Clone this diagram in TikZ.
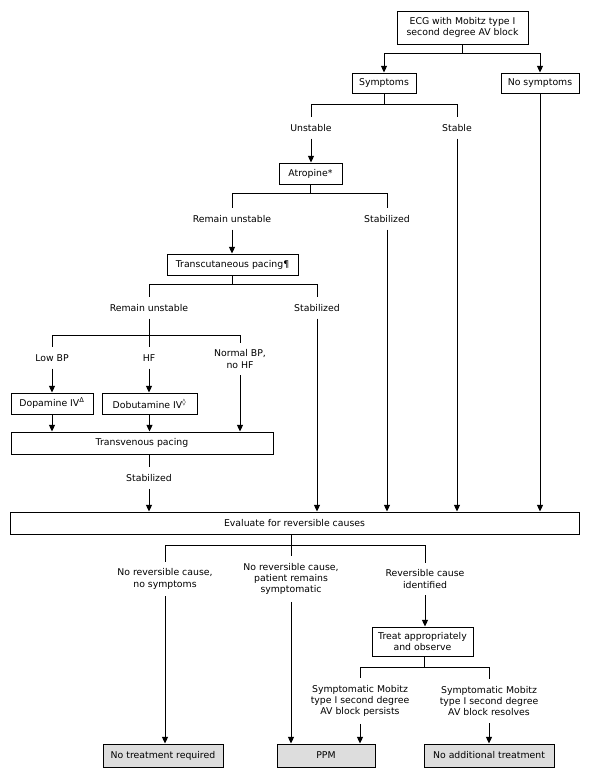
\documentclass[tikz,border=0pt]{standalone}
\usepackage{fontspec}
\setmainfont{DejaVu Sans}
\usetikzlibrary{arrows.meta}
\definecolor{finfond}{HTML}{DDDDDD}
\tikzset{
  boite/.style={draw, line width=0.7pt, inner sep=0pt, align=center},
  fin/.style={boite, fill=finfond},
  etiq/.style={inner xsep=1pt, inner ysep=5pt, align=center},
  fl/.style={-{Triangle[length=5pt,width=4.5pt]}},
}
\begin{document}
\begin{tikzpicture}[x=0.75pt,y=-0.75pt, line width=0.7pt, font=\fontsize{7}{8.5}\selectfont]
    \useasboundingbox (0,0) rectangle (592,778);
    % boites
    \node[boite, minimum width=98.25pt, minimum height=24.75pt] (ecg) at (462.5,27.5) {ECG with Mobitz type I\\second degree AV block};
    \node[boite, minimum width=48pt, minimum height=15pt] (sym) at (384,83) {Symptoms};
    \node[boite, minimum width=58.5pt, minimum height=15pt] (nosym) at (540,83) {No symptoms};
    \node[boite, minimum width=47.25pt, minimum height=15.75pt] (atro) at (310.5,173.5) {Atropine*};
    \node[boite, minimum width=98.25pt, minimum height=15.75pt] (tcp) at (232.5,264.5) {Transcutaneous pacing¶};
    \node[boite, minimum width=61.5pt, minimum height=15.75pt] (dopa) at (52,403.5) {Dopamine IV\textsuperscript{Δ}};
    \node[boite, minimum width=71.25pt, minimum height=15.75pt] (dobu) at (149.5,403.5) {Dobutamine IV\textsuperscript{◊}};
    \node[boite, minimum width=196.5pt, minimum height=16.5pt] (tvp) at (142,443) {Transvenous pacing};
    \node[boite, minimum width=426.75pt, minimum height=16.5pt] (eval) at (294.5,523) {Evaluate for reversible causes};
    \node[boite, minimum width=75.75pt, minimum height=21.75pt] (treat) at (422.5,641.5) {Treat appropriately\\and observe};
    \node[fin, minimum width=90pt, minimum height=17.25pt] (notreat) at (163,755.5) {No treatment required};
    \node[fin, minimum width=73.5pt, minimum height=17.25pt] (ppm) at (326,755.5) {PPM};
    \node[fin, minimum width=97.5pt, minimum height=17.25pt] (noadd) at (489,755.5) {No additional treatment};
    % etiquettes
    \node[etiq] (unst) at (311,128) {Unstable};
    \node[etiq] (stab) at (457,128) {Stable};
    \node[etiq] (ru1) at (232,219) {Remain unstable};
    \node[etiq] (st1) at (387,219) {Stabilized};
    \node[etiq] (ru2) at (149,308) {Remain unstable};
    \node[etiq] (st2) at (317,308) {Stabilized};
    \node[etiq] (lowbp) at (52,358) {Low BP};
    \node[etiq] (hf) at (149,358) {HF};
    \node[etiq] (normbp) at (240,359) {Normal BP,\\no HF};
    \node[etiq] (st3) at (149,478) {Stabilized};
    \node[etiq] (nr1) at (165,579) {No reversible cause,\\no symptoms};
    \node[etiq] (nr2) at (291,579) {No reversible cause,\\patient remains\\symptomatic};
    \node[etiq] (rev) at (425,579) {Reversible cause\\identified};
    \node[etiq] (pers) at (360,701) {Symptomatic Mobitz\\type I second degree\\AV block persists};
    \node[etiq] (reso) at (489,701) {Symptomatic Mobitz\\type I second degree\\AV block resolves};
    % embranchements
    \coordinate (b1) at (462.5,53);
    \coordinate (b2) at (384,104);
    \coordinate (b3) at (310.5,193);
    \coordinate (b4) at (232.5,284);
    \coordinate (b5) at (149,335);
    \coordinate (b6) at (291,545);
    \coordinate (b7) at (424,667);
    % ecg
    \draw (ecg) -- (b1);
    \draw[fl] (b1) -| (sym);
    \draw[fl] (b1) -| (nosym);
    \draw[fl] (nosym) -- (nosym |- eval.north);
    % symptomes
    \draw (sym) -- (b2);
    \draw (b2) -| (unst);
    \draw (b2) -| (stab);
    \draw[fl] (unst) -- (unst |- atro.north);
    \draw[fl] (stab) -- (stab |- eval.north);
    % atropine
    \draw (atro) -- (b3);
    \draw (b3) -| (ru1);
    \draw (b3) -| (st1);
    \draw[fl] (ru1) -- (ru1 |- tcp.north);
    \draw[fl] (st1) -- (st1 |- eval.north);
    % stimulation transcutanee
    \draw (tcp) -- (b4);
    \draw (b4) -| (ru2);
    \draw (b4) -| (st2);
    \draw[fl] (st2) -- (st2 |- eval.north);
    \draw (ru2) -- (b5);
    \draw (b5) -| (lowbp);
    \draw (b5) -| (normbp);
    \draw (b5) -- (hf);
    \draw[fl] (lowbp) -- (lowbp |- dopa.north);
    \draw[fl] (hf) -- (hf |- dobu.north);
    \draw[fl] (normbp) -- (normbp |- tvp.north);
    \draw[fl] (dopa) -- (dopa |- tvp.north);
    \draw[fl] (dobu) -- (dobu |- tvp.north);
    % stimulation transveineuse
    \draw (st3 |- tvp.south) -- (st3);
    \draw[fl] (st3) -- (st3 |- eval.north);
    % causes reversibles
    \draw (b6 |- eval.south) -- (b6);
    \draw (b6) -| (nr1);
    \draw (b6) -| (rev);
    \draw (b6) -- (nr2);
    \draw[fl] (rev) -- (rev |- treat.north);
    \draw (b7 |- treat.south) -- (b7);
    \draw (b7) -| (pers);
    \draw (b7) -| (reso);
    % fins
    \draw[fl] (nr1) -- (nr1 |- notreat.north);
    \draw[fl] (nr2) -- (nr2 |- ppm.north);
    \draw[fl] (pers) -- (pers |- ppm.north);
    \draw[fl] (reso) -- (reso |- noadd.north);
\end{tikzpicture}
\end{document}
